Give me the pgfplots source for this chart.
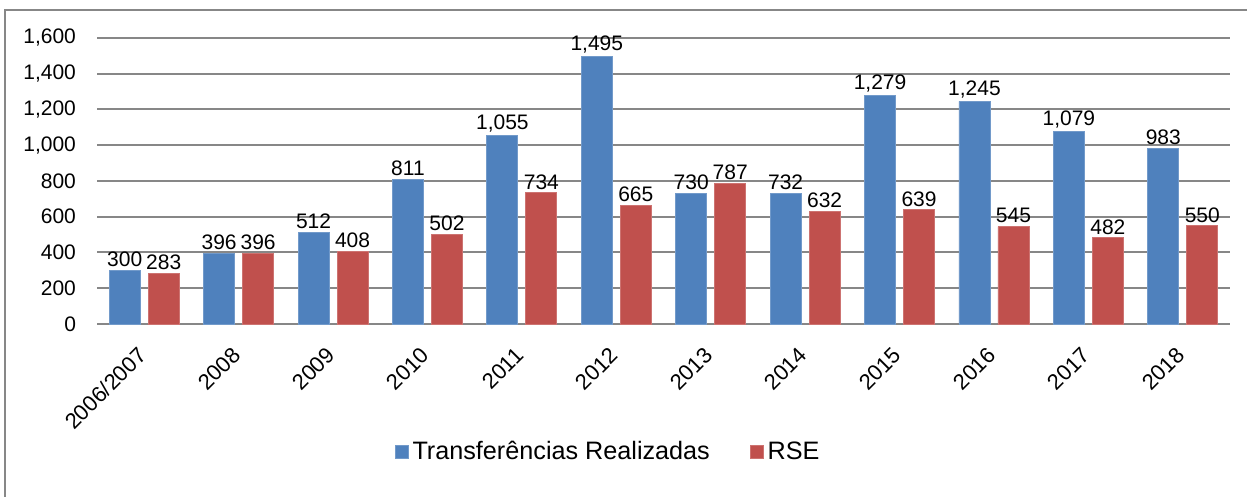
\documentclass[border=0pt]{standalone}
\usepackage{pgfplots}
\pgfplotsset{compat=1.18}
\usepackage{fontspec}
\setmainfont{Liberation Sans}
\definecolor{tblue}{HTML}{4F81BD}
\definecolor{rred}{HTML}{C0504D}
\definecolor{gridg}{HTML}{878787}
\begin{document}
\begin{tikzpicture}[x=1pt,y=1pt]
\useasboundingbox (0,0) rectangle (623.5,248.5);
\draw[color=gridg, line width=1pt] (2.5,-20) rectangle (680,243.5);
\begin{axis}[
  at={(48.5pt,86.5pt)}, anchor=south west,
  scale only axis, width=566.5pt, height=143pt,
  ybar=4pt, bar width=15.5pt,
  xmin=-0.5, xmax=11.5, ymin=0, ymax=1600,
  ytick={0,200,...,1600},
  xtick={0,...,11},
  xticklabels={2006/2007,2008,2009,2010,2011,2012,2013,2014,2015,2016,2017,2018},
  ymajorgrids, major grid style={gridg, line width=1pt},
  axis x line*=bottom, axis y line*=left,
  y axis line style={draw=none},
  x axis line style={gridg, line width=1.2pt, -},
  major tick length=0pt,
  /pgf/number format/.cd, fixed, precision=0, 1000 sep={,}, assume math mode=true,
  /pgfplots/.cd,
  ticklabel style={font=\fontsize{10.5}{12}\selectfont},
  yticklabel style={xshift=-7pt},
  xticklabel style={rotate=45, anchor=north east, xshift=-7pt, yshift=-1.5pt, font=\fontsize{11}{12}\selectfont},
  nodes near coords,
  every node near coord/.append style={font=\fontsize{10.5}{12}\selectfont, inner sep=1.5pt, text=black},
  legend columns=2,
  legend style={draw=none, fill=none, at={(0.452,-0.448)}, anchor=center, font=\fontsize{12.6}{14}\selectfont, inner sep=0pt},
  /tikz/every even column/.append style={column sep=18pt},
  legend image code/.code={\fill[#1] (0pt,-3.25pt) rectangle (6.5pt,3.25pt);},
  clip=false,
]
\addplot[fill=tblue, draw=tblue!80!white] coordinates {(0,300) (1,396) (2,512) (3,811) (4,1055) (5,1495) (6,730) (7,732) (8,1279) (9,1245) (10,1079) (11,983)};
\addplot[fill=rred, draw=rred!80!white] coordinates {(0,283) (1,396) (2,408) (3,502) (4,734) (5,665) (6,787) (7,632) (8,639) (9,545) (10,482) (11,550)};
\legend{Transferências Realizadas, RSE}
\end{axis}
\end{tikzpicture}
\end{document}
